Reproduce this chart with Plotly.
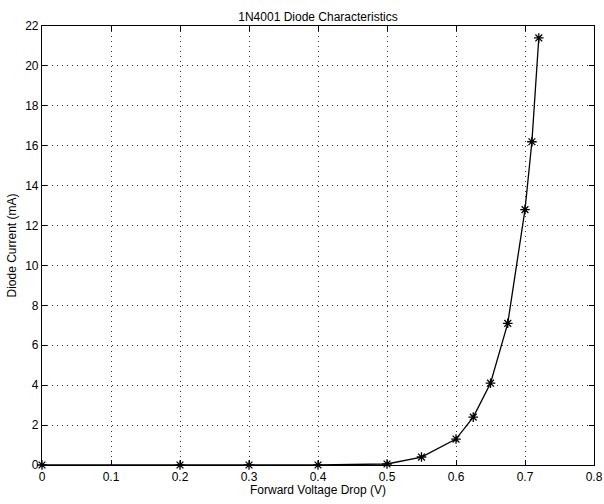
import plotly.graph_objects as go

voltage = [0.0, 0.2, 0.3, 0.4, 0.5, 0.55, 0.6, 0.625, 0.65, 0.675, 0.7, 0.71, 0.72]
current = [0.0, 0.0, 0.0, 0.0, 0.05, 0.4, 1.3, 2.4, 4.1, 7.1, 12.8, 16.2, 21.4]

x_ticks = [0, 0.1, 0.2, 0.3, 0.4, 0.5, 0.6, 0.7, 0.8]
x_labels = ["0", "0.1", "0.2", "0.3", "0.4", "0.5", "0.6", "0.7", "0.8"]
y_ticks = [0, 2, 4, 6, 8, 10, 12, 14, 16, 18, 20, 22]
y_labels = [str(v) for v in y_ticks]

fig = go.Figure()
fig.add_trace(go.Scatter(
    x=voltage, y=current, mode="lines+markers",
    line=dict(color="black", width=1.3),
    marker=dict(symbol="asterisk-open", size=8, color="black",
                line=dict(color="black", width=1.3)),
    showlegend=False, cliponaxis=False,
))

font = "Liberation Sans, Arial, sans-serif"
axis_common = dict(
    showline=True, linecolor="black", linewidth=1.2, mirror="allticks",
    ticks="inside", ticklen=5, tickcolor="black",
    showgrid=True, gridcolor="#333333", griddash="1px,4px", gridwidth=1,
    zeroline=False, automargin=False,
    tickfont=dict(family=font, size=12, color="black"),
)

fig.update_layout(
    width=604, height=504,
    margin=dict(l=42, r=10, t=26, b=39),
    paper_bgcolor="white", plot_bgcolor="white",
    title=dict(text="1N4001 Diode Characteristics", x=0.5, xref="paper",
               xanchor="center", y=1 - 17 / 504, yanchor="middle",
               font=dict(family=font, size=12, color="black")),
    xaxis=dict(range=[0, 0.8], tickvals=x_ticks, ticktext=x_labels,
               title=dict(text="Forward Voltage Drop (V)", standoff=2,
                          font=dict(family=font, size=12, color="black")),
               **axis_common),
    yaxis=dict(range=[0, 22], tickvals=y_ticks, ticktext=y_labels,
               title=dict(text="Diode Current (mA)", standoff=5,
                          font=dict(family=font, size=12, color="black")),
               **axis_common),
)

fig.write_html(
    "out.html",
    config={"displayModeBar": False},
    post_script="document.body.style.margin='0';document.body.style.overflow='hidden';",
)
